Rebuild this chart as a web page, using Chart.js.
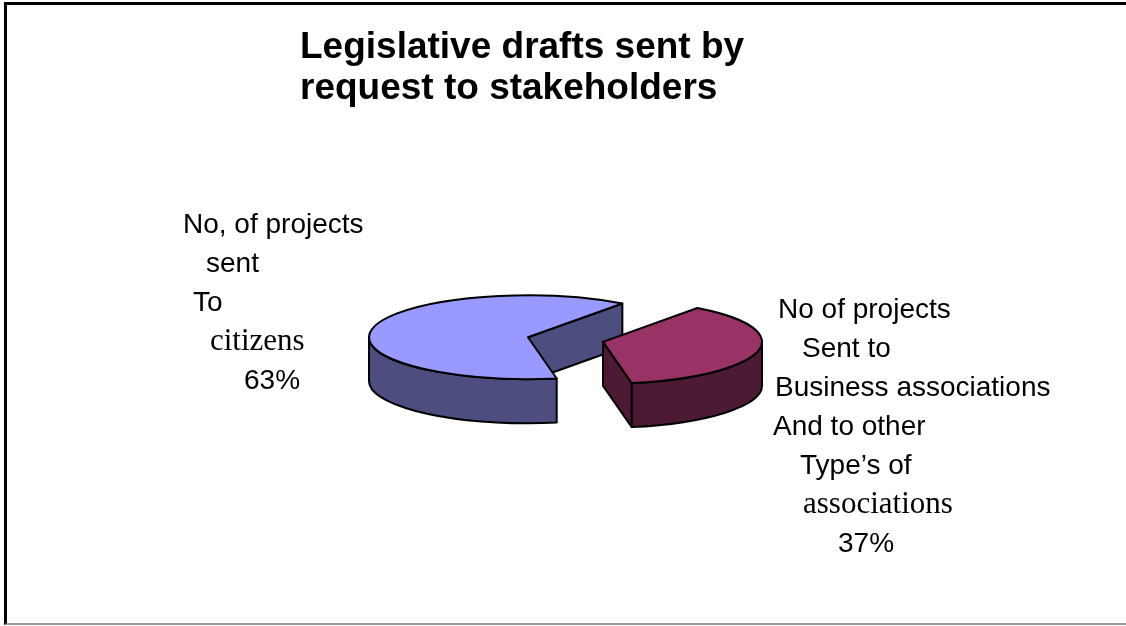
<!DOCTYPE html>
<html>
<head>
<meta charset="utf-8">
<script src="https://cdn.jsdelivr.net/npm/chart.js@4.4.1/dist/chart.umd.min.js"></script>
<style>
    html, body { margin: 0; padding: 0; background: #fff; }
    .frame {
        position: absolute;
        left: 4px;
        top: 2px;
        width: 1140px;
        height: 623px;
        box-sizing: border-box;
        border-top: 3px solid #000;
        border-left: 3px solid #000;
        border-bottom: 2px solid #9a9a9a;
    }
    .chartBox {
        position: absolute;
        left: 0;
        top: 0;
        width: 1126px;
        height: 626px;
    }
</style>
</head>
<body>
<div class="frame"></div>
<div class="chartBox"><canvas id="chart"></canvas></div>
<script>
// values
const categories = ['citizens', 'business and other associations'];
const values = [63, 37];
const titleLines = ['Legislative drafts sent by', 'request to stakeholders'];
const citizenLines = ['No, of projects', 'sent', 'To', 'citizens'];
const businessLines = ['No of projects', 'Sent to', 'Business associations', 'And to other', 'Type\u2019s of', 'associations'];
const sliceColors = ['#9999FF', '#993366'];

// half the brightness of a hex colour, for the side walls
function darker(hex) {
    const n = parseInt(hex.slice(1), 16);
    const r = Math.round(((n >> 16) & 255) / 2);
    const g = Math.round(((n >> 8) & 255) / 2);
    const b = Math.round((n & 255) / 2);
    return `rgb(${r}, ${g}, ${b})`;
}

// draws the pie elements as a tilted, extruded disc
const pie3d = {
    id: 'pie3d',
    beforeDatasetsDraw(chart, args, opts) {
        const ctx = chart.ctx;
        const meta = chart.getDatasetMeta(0);
        const k = opts.tilt;
        const depth = opts.depth;

        ctx.save();
        ctx.lineWidth = opts.borderWidth;
        ctx.strokeStyle = '#000';
        ctx.lineJoin = 'round';

        meta.data.forEach((arc, i) => {
            const {x, y, startAngle, endAngle, outerRadius} = arc.getProps(['x', 'y', 'startAngle', 'endAngle', 'outerRadius'], true);
            const r = outerRadius;
            const mid = (startAngle + endAngle) / 2;
            const ex = opts.explode[i] || 0;
            const cx = x + Math.cos(mid) * ex;
            const cy = y + Math.sin(mid) * ex * k;
            const top = arc.options.backgroundColor;
            const side = darker(top);
            const pt = (t, d) => [cx + r * Math.cos(t), cy + r * Math.sin(t) * k + d];

            // radial cut faces that turn towards the viewer
            const faces = [];
            if (Math.cos(startAngle) < 0) faces.push(startAngle);
            if (Math.cos(endAngle) > 0) faces.push(endAngle);
            faces.forEach(t => {
                const [px, py] = pt(t, 0);
                ctx.beginPath();
                ctx.moveTo(cx, cy);
                ctx.lineTo(px, py);
                ctx.lineTo(px, py + depth);
                ctx.lineTo(cx, cy + depth);
                ctx.closePath();
                ctx.fillStyle = side;
                ctx.fill();
                ctx.stroke();
            });

            // curved outer wall, front half only
            for (let n = -1; n <= 2; n++) {
                const a = Math.max(startAngle, n * 2 * Math.PI);
                const b = Math.min(endAngle, n * 2 * Math.PI + Math.PI);
                if (b <= a) continue;
                ctx.beginPath();
                ctx.ellipse(cx, cy, r, r * k, 0, a, b);
                ctx.ellipse(cx, cy + depth, r, r * k, 0, b, a, true);
                ctx.closePath();
                ctx.fillStyle = side;
                ctx.fill();
                ctx.stroke();
            }

            // top face
            ctx.beginPath();
            ctx.moveTo(cx, cy);
            ctx.ellipse(cx, cy, r, r * k, 0, startAngle, endAngle);
            ctx.closePath();
            ctx.fillStyle = top;
            ctx.fill();
            ctx.stroke();
        });

        ctx.restore();
        return false;
    }
};

// multi-line slice labels
const sliceLabels = {
    id: 'sliceLabels',
    afterDraw(chart, args, opts) {
        const ctx = chart.ctx;
        ctx.save();
        ctx.fillStyle = '#000';
        ctx.textBaseline = 'alphabetic';
        ctx.textAlign = 'left';
        opts.blocks.forEach(block => {
            block.lines.forEach((line, j) => {
                ctx.font = block.serif.includes(j) ? opts.serifFont : opts.sansFont;
                ctx.fillText(line, block.xs[j], block.y + j * opts.step);
            });
        });
        ctx.restore();
    }
};

const ctx = document.getElementById('chart').getContext('2d');

new Chart(ctx, {
    type: 'pie',
    data: {
        labels: categories,
        datasets: [{
            data: values,
            backgroundColor: sliceColors,
            borderWidth: 0
        }]
    },
    plugins: [pie3d, sliceLabels],
    options: {
        responsive: true,
        maintainAspectRatio: false,
        animation: false,
        radius: 159,
        rotation: 169.6,
        layout: {
            padding: {left: 300, right: 370, top: 17, bottom: 60.5}
        },
        plugins: {
            legend: {display: false},
            tooltip: {enabled: false},
            title: {
                display: true,
                text: titleLines,
                align: 'start',
                color: '#000',
                padding: {top: 10, bottom: 0},
                font: {family: "'Liberation Sans', Arial, sans-serif", size: 37, weight: 'bold', lineHeight: '41px'}
            },
            pie3d: {
                tilt: 0.264,
                depth: 44,
                borderWidth: 2,
                explode: [0, 77]
            },
            sliceLabels: {
                sansFont: "28px 'Liberation Sans', Arial, sans-serif",
                serifFont: "31px 'Liberation Serif', 'Times New Roman', serif",
                step: 39,
                blocks: [
                    {
                        lines: [...citizenLines, `${values[0]}%`],
                        serif: [3],
                        xs: [183, 206, 193, 210, 244],
                        y: 233
                    },
                    {
                        lines: [...businessLines, `${values[1]}%`],
                        serif: [5],
                        xs: [778, 802, 775, 773, 800, 803, 838],
                        y: 318
                    }
                ]
            }
        }
    }
});
</script>
</body>
</html>
